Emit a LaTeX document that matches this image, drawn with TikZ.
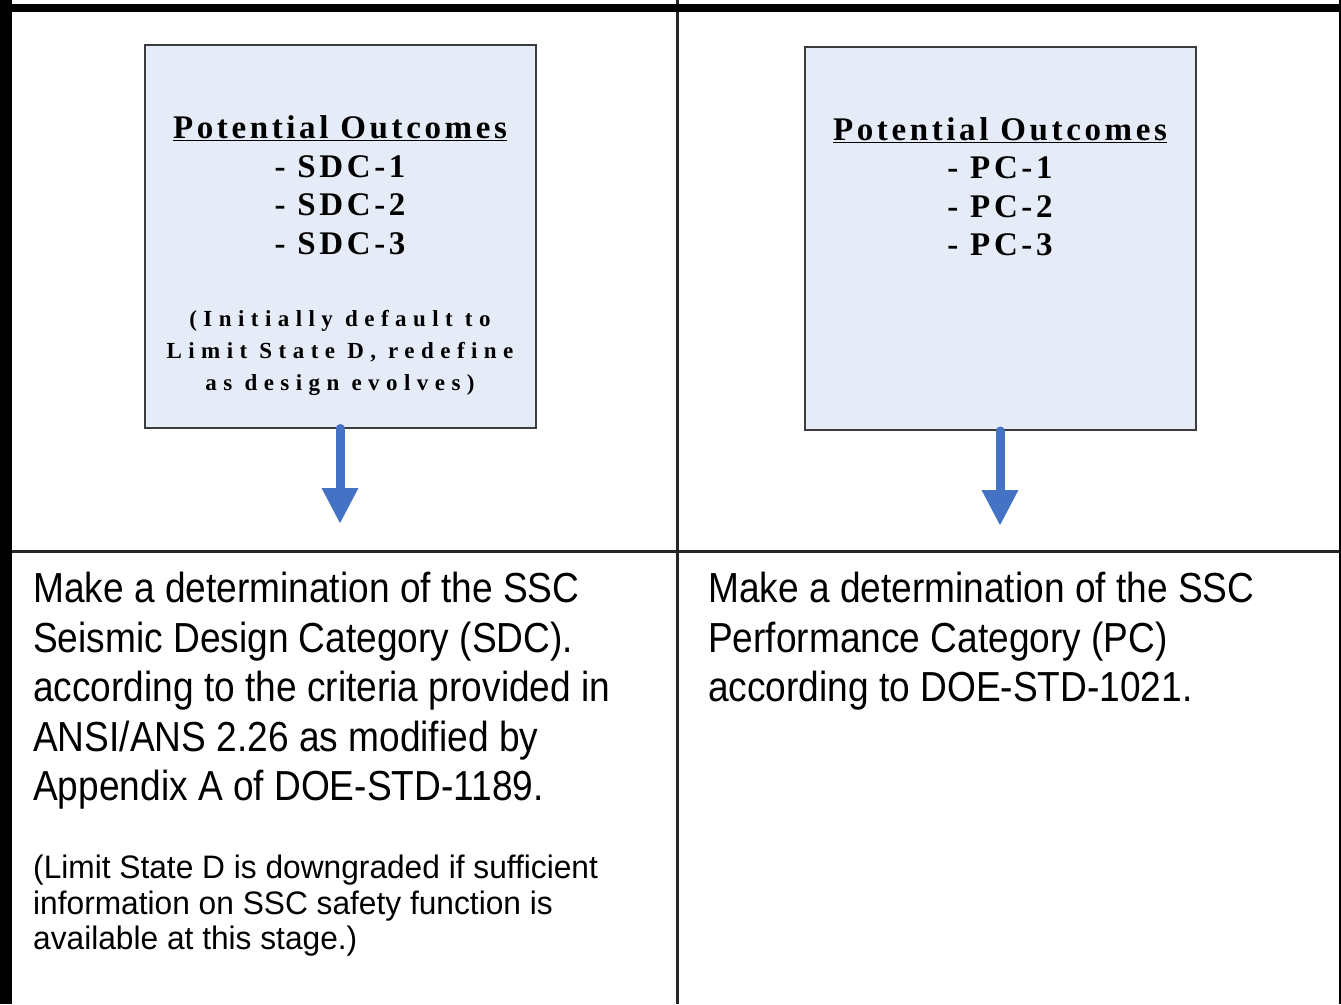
\documentclass[tikz,border=0pt]{standalone}
\usepackage{fontspec}
\newfontfamily\cellfont{Liberation Sans}[FakeStretch=0.883]
\newfontfamily\remarkfont{Liberation Sans}[FakeStretch=0.975]
\newfontfamily\boxfont{Liberation Serif}[LetterSpace=11]
\newfontfamily\notefont{Liberation Serif}[LetterSpace=28]
\usetikzlibrary{arrows.meta,positioning}
\definecolor{boxfill}{RGB}{230,236,247}
\definecolor{boxline}{RGB}{60,60,60}
\definecolor{flow}{RGB}{68,114,196}

\begin{document}
\begin{tikzpicture}[x=1pt,y=-1pt,
  outcome box/.style={draw=boxline,line width=2pt,fill=boxfill,
    minimum width=391pt,minimum height=383pt,inner sep=0pt},
  outcome text/.style={font=\boxfont\bfseries\fontsize{33}{38.5}\selectfont,
    align=center,inner sep=0pt,anchor=north},
  note text/.style={font=\notefont\bfseries\fontsize{23}{32}\selectfont,
    align=center,inner sep=0pt,anchor=north},
  down arrow/.style={flow,line width=9pt,line cap=round,
    -{Triangle[width=34pt,length=36pt]}},
  cell text/.style={font=\cellfont\fontsize{42}{49.5}\selectfont,
    align=left,inner sep=0pt,anchor=north west},
  cell note/.style={font=\remarkfont\fontsize{32.5}{35.5}\selectfont,
    align=left,inner sep=0pt,anchor=north west},
  grid line/.style={line width=3pt,draw=black!85}]

\useasboundingbox (0,0) rectangle (1341,1004);

% table rules
\draw[grid line] (0,551) -- (1341,551);
\draw[grid line] (677,0) -- (677,1004);
\draw[line width=12pt] (6,0) -- (6,1004);
\draw[line width=8pt] (0,8) -- (1341,8);
\draw[line width=10pt] (1344,0) -- (1344,1004);

% seismic design category
\node[outcome box] (sdc box) at (340,236) {};
\node[outcome text] (sdc list) at (340,115.5)
  {\underline{Potential Outcomes}\\- SDC-1\\- SDC-2\\- SDC-3};
\node[note text] (sdc note) at (340,310.5)
  {(Initially default to\\Limit State D, redefine\\as design evolves)};
\coordinate (sdc tip) at (340,524);
\draw[down arrow] (sdc box.south) -- (sdc tip);

% performance category
\node[outcome box] (pc box) at (1000,238.5) {};
\node[outcome text] (pc list) at (1000,117)
  {\underline{Potential Outcomes}\\- PC-1\\- PC-2\\- PC-3};
\coordinate (pc tip) at (1000,526);
\draw[down arrow] (pc box.south) -- (pc tip);

% determinations
\node[cell text] (sdc step) at (33,572)
  {Make a determination of the SSC\\Seismic Design Category (SDC).\\according to the criteria provided in\\ANSI/ANS 2.26 as modified by\\Appendix A of DOE-STD-1189.};
\node[cell note] (sdc remark) at (33,855)
  {(Limit State D is downgraded if sufficient\\information on SSC safety function is\\available at this stage.)};
\node[cell text] (pc step) at (708,572)
  {Make a determination of the SSC\\Performance Category (PC)\\according to DOE-STD-1021.};
\end{tikzpicture}
\end{document}
